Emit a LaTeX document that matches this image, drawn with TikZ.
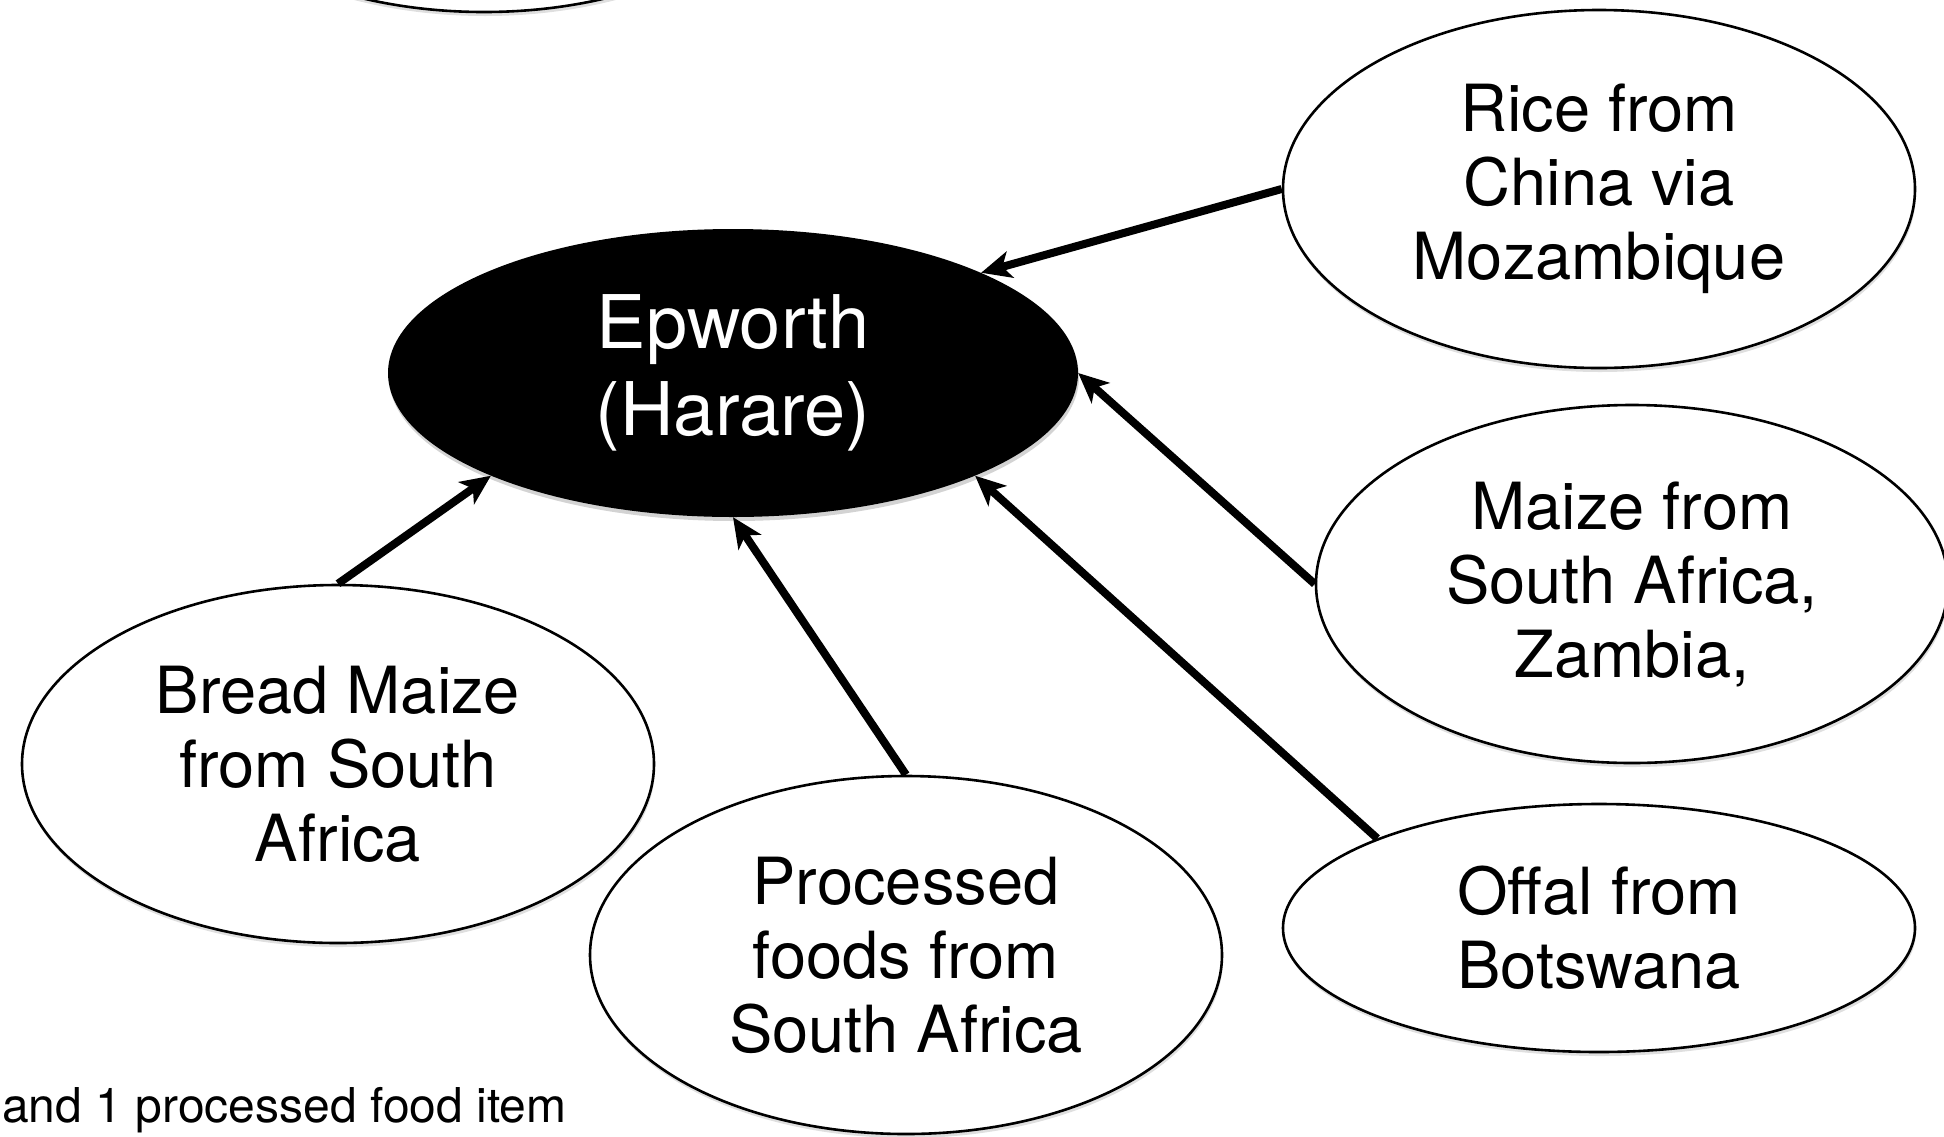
\documentclass[tikz,border=0pt]{standalone}
\usepackage{fontspec}
\setmainfont{TeX Gyre Heros}
\usetikzlibrary{shapes.geometric, positioning, arrows.meta, shadows}
\tikzset{x=1pt, y=1pt, % One unit is one pixel of the slide
source/.style={ % Sets the properties for each supply ellipse
ellipse, draw, line width=2.6pt, fill=white,
inner sep=0pt, align=center,
minimum width=632, minimum height=358,
font=\fontsize{65}{74}\selectfont,
drop shadow={shadow xshift=1pt, shadow yshift=-4pt, opacity=.25}},
city/.style={ % The destination in the middle
ellipse, fill=black, text=white,
inner sep=0pt, align=center,
minimum width=690, minimum height=288,
font=\fontsize{74}{87}\selectfont,
drop shadow={shadow xshift=1pt, shadow yshift=-4pt, opacity=.35}},
every edge/.style={ % Sets the properties for each flow
draw, -{Stealth[length=30pt, width=27pt, inset=8pt]},
line width=8pt}}

\begin{document}
\begin{tikzpicture}
    \useasboundingbox (0,0) rectangle (1944,-1136);

    \node[source] (top) at (484,167) {};
    \node[city] (epw) at (733,-373) {Epworth\\(Harare)};
    \node[source] (rice) at (1599,-189) {Rice from\\China via\\Mozambique};
    \node[source] (maize) at (1632,-584) {Maize from\\South Africa,\\Zambia,};
    \node[source] (bread) at (338,-764) {Bread Maize\\from South\\Africa};
    \node[source] (proc) at (906,-955) {Processed\\foods from\\South Africa};
    \node[source, minimum height=248] (offal) at (1599,-928) {Offal from\\Botswana};

    \draw (rice.west) edge (epw.22);
    \draw (maize.west) edge (epw.east);
    \draw (offal.158) edge (epw.337);
    \draw (proc.north) edge (epw.south);
    \draw (bread.north) edge (epw.203);

    \node[anchor=base west, inner sep=0pt, font=\fontsize{48}{54}\selectfont]
        (note) at (2,-1122) {and 1 processed food item};

\end{tikzpicture}
\end{document}
